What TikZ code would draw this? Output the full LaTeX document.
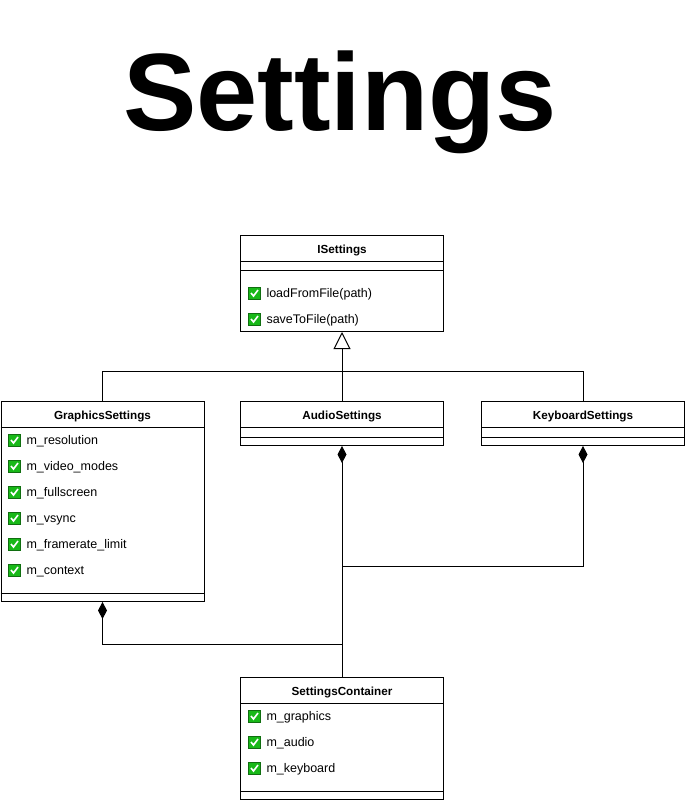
\documentclass[tikz,border=0pt]{standalone}
\usepackage{fontspec}
\setmainfont{Liberation Sans}
\usetikzlibrary{arrows.meta, positioning}
\definecolor{tickgreen}{RGB}{24,184,24}
\definecolor{tickedge}{RGB}{16,110,16}

\begin{document}
\begin{tikzpicture}
	[x=1pt, y=-1pt, line width=1pt,
	 classbox/.style={draw, fill=white, anchor=north west, inner sep=0pt, minimum width=203pt},
	 classname/.style={anchor=base, inner sep=0pt, font=\fontsize{11.7}{13}\selectfont\bfseries},
	 member/.style={anchor=base west, inner sep=0pt, font=\fontsize{12.5}{14}\selectfont},
	 tick/.pic={
	   \draw[fill=tickgreen, draw=tickedge, line width=0.8pt] (-6,-6) rectangle (6,6);
	   \draw[white, line width=1.6pt] (-3.5,0) -- (-1,3) -- (3.5,-3);
	 },
	 inherit/.style={-{Triangle[open, length=17pt, width=17pt]}},
	 compose/.style={{Diamond[length=17pt, width=9pt]}-}]
   \useasboundingbox (0,0) rectangle (685,800);

   \node[font=\fontsize{110}{120}\selectfont\bfseries, anchor=base] (title) at (340,130) {Settings};

   % interface
   \node[classbox, minimum height=96pt] (isettings) at (240,235) {};
   \node[classname] (isettings_name) at ([yshift=-18pt]isettings.north) {ISettings};
   \draw ([yshift=-26pt]isettings.north west) -- ([yshift=-26pt]isettings.north east);
   \draw ([yshift=-35pt]isettings.north west) -- ([yshift=-35pt]isettings.north east);
   \pic at (254.5,293) {tick};
   \node[member] (load) at (266,297.5) {loadFromFile(path)};
   \pic at (254.5,319) {tick};
   \node[member] (save) at (266,323.5) {saveToFile(path)};

   % settings classes
   \node[classbox, minimum height=200pt] (graphics) at (0.5,401) {};
   \node[classname] (graphics_name) at ([yshift=-18pt]graphics.north) {GraphicsSettings};
   \draw ([yshift=-26pt]graphics.north west) -- ([yshift=-26pt]graphics.north east);
   \draw ([yshift=9pt]graphics.south west) -- ([yshift=9pt]graphics.south east);
   \foreach \m [count=\i] in {m\_resolution, m\_video\_modes, m\_fullscreen, m\_vsync, m\_framerate\_limit, m\_context} {
     \pic at (14.5,414+26*\i) {tick};
     \node[member] (gs_\i) at (26,418.5+26*\i) {\m};
   }

   \node[classbox, minimum height=44pt] (audio) at (240,401) {};
   \node[classname] (audio_name) at ([yshift=-18pt]audio.north) {AudioSettings};
   \draw ([yshift=-26pt]audio.north west) -- ([yshift=-26pt]audio.north east);
   \draw ([yshift=9pt]audio.south west) -- ([yshift=9pt]audio.south east);

   \node[classbox, minimum height=44pt] (keyboard) at (481,401) {};
   \node[classname] (keyboard_name) at ([yshift=-18pt]keyboard.north) {KeyboardSettings};
   \draw ([yshift=-26pt]keyboard.north west) -- ([yshift=-26pt]keyboard.north east);
   \draw ([yshift=9pt]keyboard.south west) -- ([yshift=9pt]keyboard.south east);

   % container
   \node[classbox, minimum height=122pt] (container) at (240,677) {};
   \node[classname] (container_name) at ([yshift=-18pt]container.north) {SettingsContainer};
   \draw ([yshift=-26pt]container.north west) -- ([yshift=-26pt]container.north east);
   \draw ([yshift=9pt]container.south west) -- ([yshift=9pt]container.south east);
   \foreach \m [count=\i] in {m\_graphics, m\_audio, m\_keyboard} {
     \pic at (254.5,690+26*\i) {tick};
     \node[member] (sc_\i) at (266,694.5+26*\i) {\m};
   }

   % connectors
   \coordinate (hub) at (341.5,371);
   \coordinate (kb_join) at (341.5,566);
   \coordinate (gs_join) at (341.5,644);
   \draw (graphics.north) |- (hub);
   \draw (keyboard.north) |- (hub);
   \draw[inherit] (audio.north) -- (isettings.south);
   \draw[compose] (audio.south) -- (container.north);
   \draw[compose] (keyboard.south) |- (kb_join);
   \draw[compose] (graphics.south) |- (gs_join);
\end{tikzpicture}
\end{document}
